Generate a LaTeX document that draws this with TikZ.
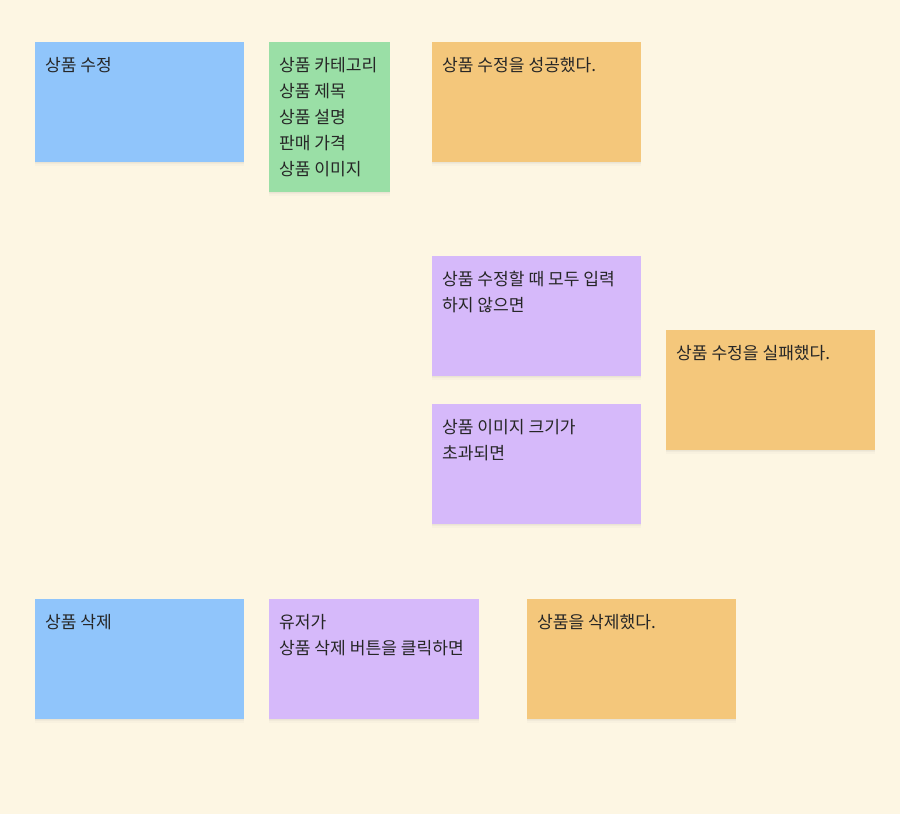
\documentclass[tikz,border=0pt]{standalone}
\usepackage{fontspec}
\setmainfont{Noto Sans CJK KR}
\usetikzlibrary{shadows,calc}
\definecolor{bgc}{HTML}{FDF6E3}
\definecolor{blueN}{HTML}{90C5FB}
\definecolor{greenN}{HTML}{9ADFA6}
\definecolor{orangeN}{HTML}{F4C77B}
\definecolor{purpleN}{HTML}{D6B9FA}
\definecolor{inkN}{HTML}{262626}
\tikzset{
  note/.style={rectangle, anchor=north west, inner sep=0pt, fill=#1,
    drop shadow={shadow xshift=0pt, shadow yshift=-1pt, opacity=0.05},
    drop shadow={shadow xshift=0pt, shadow yshift=-2pt, opacity=0.05},
    drop shadow={shadow xshift=0pt, shadow yshift=-3.5pt, opacity=0.04}},
  notetext/.style={anchor=base west, inner sep=0pt, text=inkN,
    font=\fontsize{17.1}{26}\selectfont}
}
\newcommand{\sticky}[7]{%
  \node[note=#6, minimum width=#4pt, minimum height=#5pt] (#1) at (#2,#3) {};
  \node[notetext] (#1t) at ($(#1.north west)+(10,29.5)$)
    {\begin{tabular}[t]{@{}l@{}}#7\end{tabular}};
}
\begin{document}
\begin{tikzpicture}[x=1pt,y=-1pt]
\fill[bgc] (0,0) rectangle (900,814);
\useasboundingbox (0,0) rectangle (900,814);
\sticky{edit}{35}{42}{209}{120}{blueN}{상품 수정}
\sticky{fields}{269}{42}{121}{150}{greenN}{상품 카테고리\\상품 제목\\상품 설명\\판매 가격\\상품 이미지}
\sticky{editok}{432}{42}{209}{120}{orangeN}{상품 수정을 성공했다.}
\sticky{missing}{432}{256}{209}{120}{purpleN}{상품 수정할 때 모두 입력\\하지 않으면}
\sticky{editfail}{666}{330}{209}{120}{orangeN}{상품 수정을 실패했다.}
\sticky{toobig}{432}{404}{209}{120}{purpleN}{상품 이미지 크기가\\초과되면}
\sticky{del}{35}{599}{209}{120}{blueN}{상품 삭제}
\sticky{click}{269}{599}{210}{120}{purpleN}{유저가\\상품 삭제 버튼을 클릭하면}
\sticky{delok}{527}{599}{209}{120}{orangeN}{상품을 삭제했다.}
\end{tikzpicture}
\end{document}
